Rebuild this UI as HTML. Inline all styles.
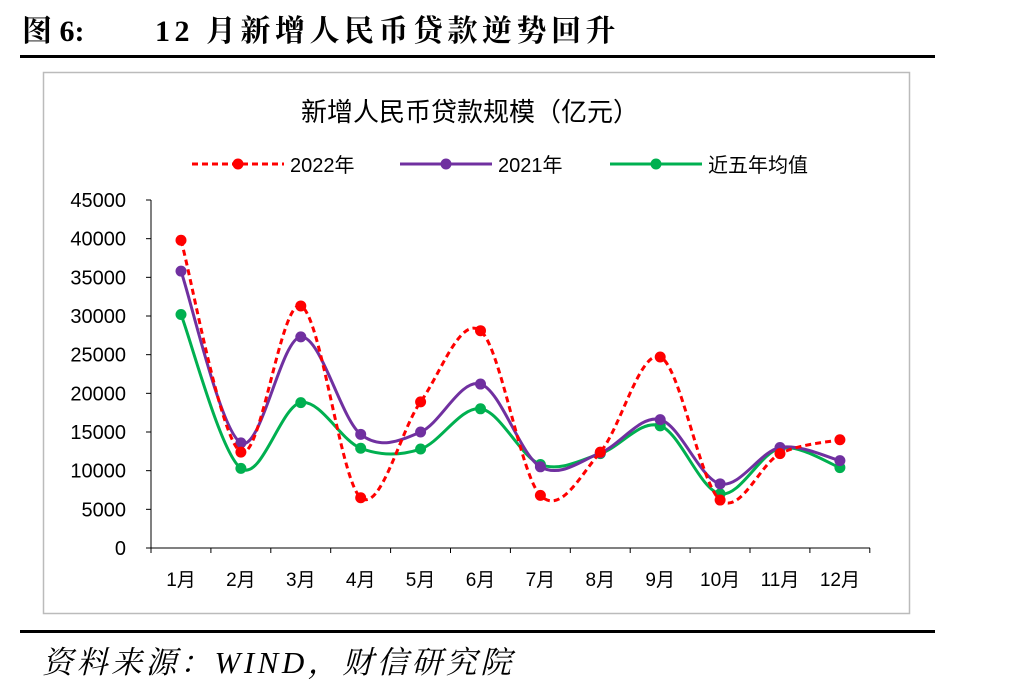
<!DOCTYPE html>
<html><head><meta charset="utf-8"><style>
body{margin:0;background:#fff;width:1012px;height:688px;overflow:hidden;font-family:"Liberation Sans","Noto Sans CJK SC",sans-serif}
</style></head><body>
<svg id="s" width="1012" height="688" xmlns="http://www.w3.org/2000/svg">
<text x="22" y="41" font-size="30" font-weight="bold" font-family="Liberation Serif,'Noto Serif CJK SC',serif">图 6:</text>
<text x="155" y="41" font-size="30" font-weight="bold" letter-spacing="4.5" font-family="Liberation Serif,'Noto Serif CJK SC',serif">12 月新增人民币贷款逆势回升</text>
<rect x="20" y="55" width="915" height="3" fill="#000"/>
<rect x="43.5" y="72.5" width="866" height="541" fill="none" stroke="#bbb" stroke-width="1.5"/>
<rect x="20" y="630" width="915" height="3" fill="#000"/>
<text x="42" y="673" font-size="31" font-style="italic" letter-spacing="3.5" font-family="Liberation Serif,'Noto Serif CJK SC',serif">资料来源：WIND，财信研究院</text>
<text x="470" y="121" font-size="26" text-anchor="middle">新增人民币贷款规模（亿元）</text>
<g id="leg"></g>
<g id="ax" fill="#000"></g>
<g id="plot"></g>
</svg>
<script>
const NS="http://www.w3.org/2000/svg";
function el(p,t,a,txt){const e=document.createElementNS(NS,t);for(const k in a)e.setAttribute(k,a[k]);if(txt)e.textContent=txt;p.appendChild(e);return e;}
const ax=document.getElementById('ax'),plot=document.getElementById('plot'),leg=document.getElementById('leg');
const Y=v=>548-v*348/45000, X=i=>181+i*59.9;
el(ax,'line',{x1:151,y1:200,x2:151,y2:548,stroke:'#000'});
el(ax,'line',{x1:151,y1:548,x2:870,y2:548,stroke:'#000'});
for(let v=0;v<=45000;v+=5000){const y=Y(v);el(ax,'line',{x1:146,y1:y,x2:151,y2:y,stroke:'#000'});el(ax,'text',{x:126,y:y+7,'text-anchor':'end','font-size':20},String(v));}
for(let i=0;i<=12;i++){const x=151+i*59.9;el(ax,'line',{x1:x,y1:548,x2:x,y2:553,stroke:'#000'});}
for(let i=0;i<12;i++)el(ax,'text',{x:X(i),y:586,'text-anchor':'middle','font-size':19},(i+1)+'月');
const S=[
{d:[30200,10300,18800,12900,12800,18000,10800,12200,15800,7000,12900,10400],c:'#00b050',dash:null,lx:610,n:'近五年均值'},
{d:[35800,13600,27300,14700,15000,21200,10500,12300,16600,8300,13000,11300],c:'#7030a0',dash:null,lx:400,n:'2021年'},
{d:[39800,12400,31300,6500,18900,28100,6800,12400,24700,6200,12200,14000],c:'#ff0000',dash:'6,4',lx:192,n:'2022年'}];
for(const s of S){
 const p=s.d.map((v,i)=>[X(i),Y(v)]);
 let d='M'+p[0];
 for(let i=0;i<p.length-1;i++){const p0=p[i-1]||p[i],p1=p[i],p2=p[i+1],p3=p[i+2]||p2;
  const c1=[p1[0]+(p2[0]-p0[0])/6,p1[1]+(p2[1]-p0[1])/6],c2=[p2[0]-(p3[0]-p1[0])/6,p2[1]-(p3[1]-p1[1])/6];
  d+=' C'+c1+' '+c2+' '+p2;}
 const a={d:d,fill:'none',stroke:s.c,'stroke-width':3};if(s.dash)a['stroke-dasharray']=s.dash;
 el(plot,'path',a);
 p.forEach(q=>el(plot,'circle',{cx:q[0],cy:q[1],r:5.5,fill:s.c}));
 const la={x1:s.lx,y1:164,x2:s.lx+92,y2:164,stroke:s.c,'stroke-width':3};if(s.dash)la['stroke-dasharray']=s.dash;
 el(leg,'line',la);el(leg,'circle',{cx:s.lx+46,cy:164,r:5.5,fill:s.c});
 el(leg,'text',{x:s.lx+98,y:172,'font-size':20},s.n);
}
</script>
</body></html>
